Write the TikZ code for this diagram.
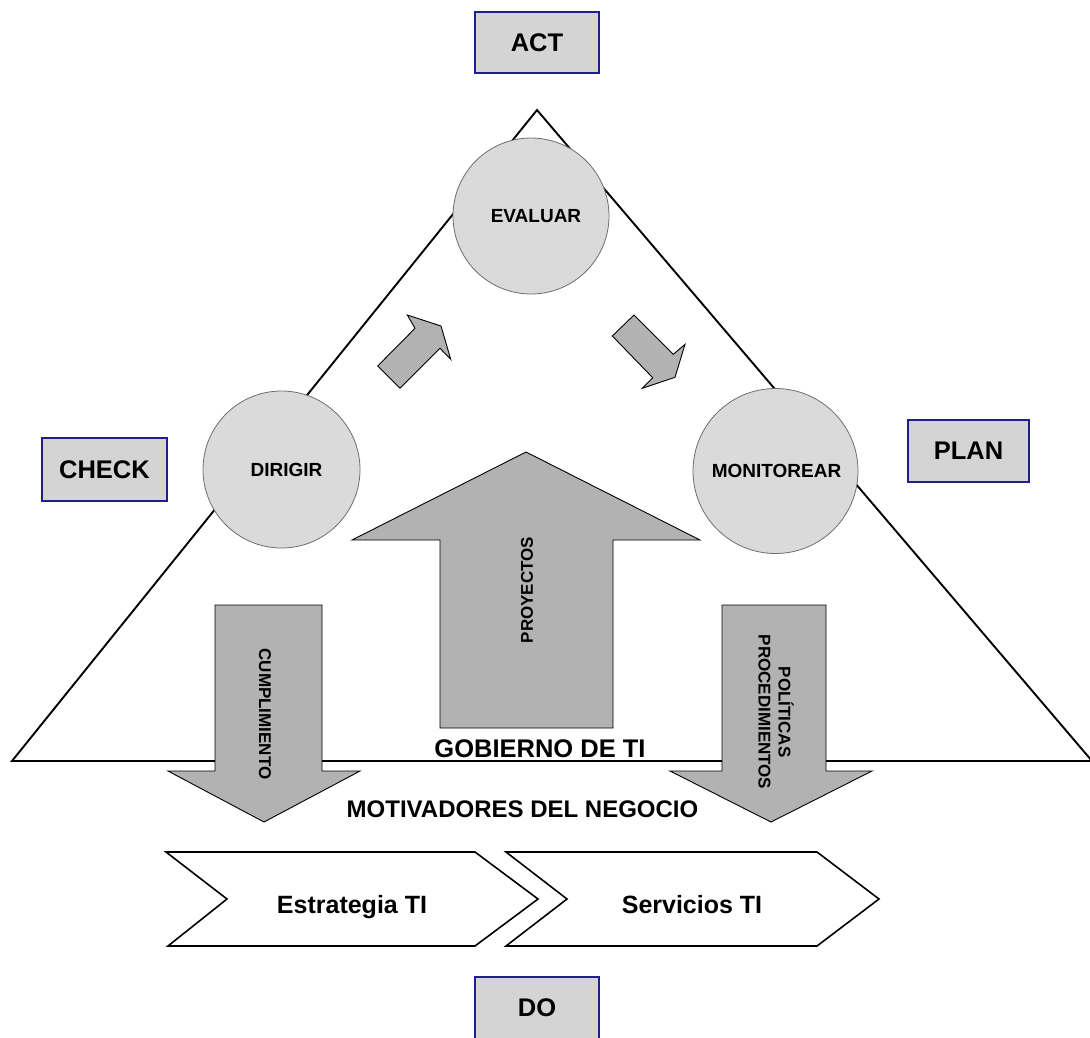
\documentclass[tikz,border=0pt]{standalone}
\usepackage{fontspec}
\setmainfont{Liberation Sans}
\definecolor{boxgray}{RGB}{212,212,212}
\definecolor{boxblue}{RGB}{30,30,140}
\definecolor{circfill}{RGB}{218,218,218}
\definecolor{circline}{RGB}{110,110,110}
\definecolor{arrowgray}{RGB}{178,178,178}
\begin{document}
\begin{tikzpicture}[x=1pt,y=-1pt,
  phase/.style={draw=boxblue, line width=1.3pt, fill=boxgray, inner sep=0pt,
    font=\bfseries\fontsize{25.5}{30}\selectfont},
  stage/.style={circle, draw=circline, fill=circfill, line width=0.8pt, inner sep=0pt},
  stagetext/.style={font=\bfseries\fontsize{19}{22}\selectfont},
  flow/.style={draw=black, fill=arrowgray, line width=0.9pt, line join=miter},
  flowtext/.style={font=\bfseries\fontsize{17}{20}\selectfont, align=center},
  chev/.style={draw=black, fill=white, line width=1.6pt, line join=miter},
  chevtext/.style={font=\bfseries\fontsize{25}{30}\selectfont, anchor=base},
  title/.style={font=\bfseries\fontsize{25.5}{30}\selectfont, anchor=base}]
\useasboundingbox (0,0) rectangle (1090,1037);
\begin{scope}
\clip (0,0) rectangle (1090,1037);

% governance triangle
\draw[line width=1.9pt, line join=miter, fill=white] (537,110) -- (1092,761) -- (12,761) -- cycle;

% the three governance activities
\node[stage, minimum size=156pt] (evaluar) at (531,216) {};
\node[stagetext] at ([xshift=5pt]evaluar.center) {EVALUAR};
\node[stage, minimum size=157pt] (dirigir) at (281.5,469.5) {};
\node[stagetext] at ([xshift=5pt]dirigir.center) {DIRIGIR};
\node[stage, minimum size=165pt] (monitorear) at (775.5,471) {};
\node[stagetext] at ([xshift=1pt]monitorear.center) {MONITOREAR};

% small cycle arrows
\draw[flow] (377.7,366) -- (415,328.3) -- (407.3,315) -- (441,326) -- (450.7,359.3)
  -- (440,348.3) -- (400,388.3) -- cycle;
\draw[flow] (612.3,336) -- (634,315) -- (673.3,354.3) -- (685,344.3) -- (675,377.3)
  -- (642.3,388.3) -- (652.7,377.7) -- cycle;

% projects arrow (up)
\draw[flow] (440,728) -- (440,540) -- (352,540) -- (526,452) -- (700,540)
  -- (613,540) -- (613,728) -- cycle;
\node[flowtext, rotate=90] (proy) at (527,590) {PROYECTOS};

% compliance arrow (down, left)
\draw[flow] (215,605) -- (322,605) -- (322,771) -- (360,771) -- (264,822)
  -- (168,771) -- (215,771) -- cycle;
\node[flowtext, rotate=-90] (cump) at (265,714) {CUMPLIMIENTO};

% policies arrow (down, right)
\draw[flow] (722,605) -- (826,605) -- (826,771) -- (872,771) -- (771,822)
  -- (670,771) -- (722,771) -- cycle;
\node[flowtext, rotate=-90] (pol) at (776,712) {POLÍTICAS\\PROCEDIMIENTOS};

% titles
\node[title] (gob) at (540,757) {GOBIERNO DE TI};
\node[title, font=\bfseries\fontsize{24}{28}\selectfont] (mot) at (522.5,817) {MOTIVADORES DEL NEGOCIO};

% value chain chevrons
\draw[chev] (166,852) -- (475,852) -- (538,899) -- (475,946) -- (168,946)
  -- (227,899) -- cycle;
\draw[chev] (506,852) -- (817,852) -- (879,899) -- (817,946) -- (506,946)
  -- (567,899) -- cycle;
\node[chevtext] (estr) at (352,913) {Estrategia TI};
\node[chevtext] (serv) at (692,913) {Servicios TI};

% PDCA phase labels
\node[phase, minimum width=124pt, minimum height=61pt] (act) at (537,42.5) {ACT};
\node[phase, minimum width=125pt, minimum height=63pt] (check) at (104.5,469.5) {CHECK};
\node[phase, minimum width=121pt, minimum height=62pt] (plan) at (968.5,451) {PLAN};
\node[phase, minimum width=124pt, minimum height=62pt] (do) at (537,1008) {DO};
\end{scope}
\end{tikzpicture}
\end{document}
